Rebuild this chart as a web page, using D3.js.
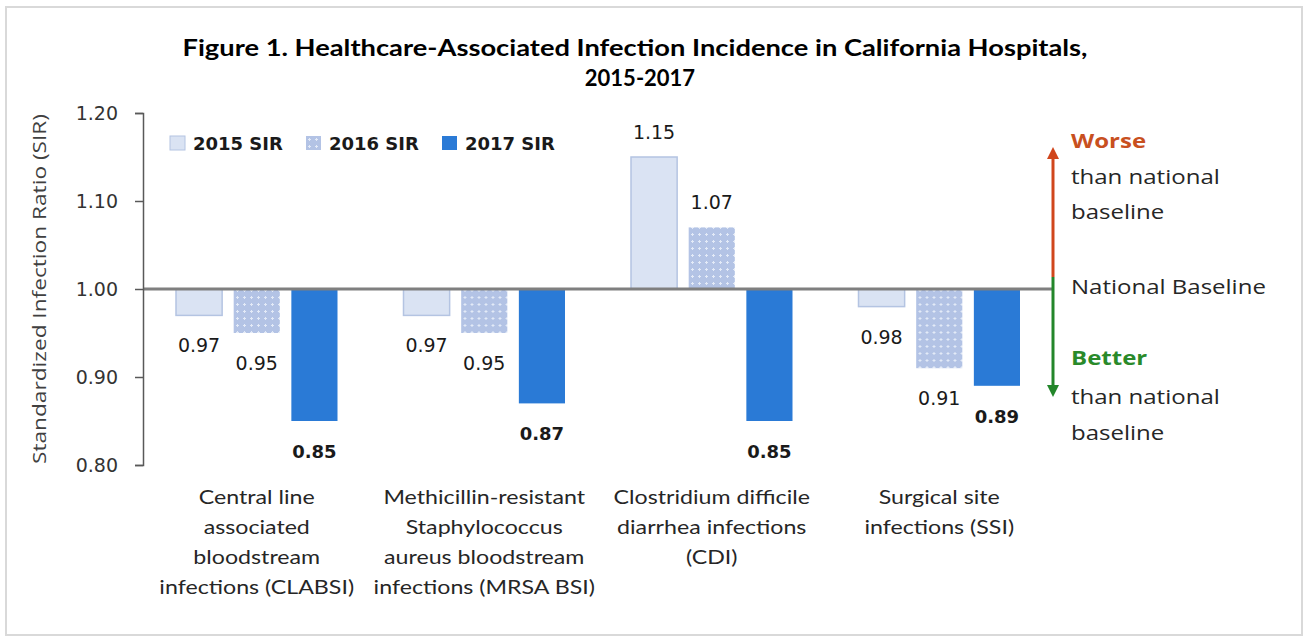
<!DOCTYPE html>
<html>
<head>
<meta charset="utf-8">
<script src="https://cdn.jsdelivr.net/npm/d3@7"></script>
<style>
  body { margin: 0; background: #fff; }
  #container { width: 1308px; height: 642px; }
</style>
</head>
<body>
<div id="container"></div>
<script>
// chart values
const categories = ['CLABSI', 'MRSA BSI', 'CDI', 'SSI']
const categoryLines = [
  ['Central line', 'associated', 'bloodstream', 'infections (CLABSI)'],
  ['Methicillin-resistant', 'Staphylococcus', 'aureus bloodstream', 'infections (MRSA BSI)'],
  ['Clostridium difficile', 'diarrhea infections', '(CDI)'],
  ['Surgical site', 'infections (SSI)']
]
const series = ['2015 SIR', '2016 SIR', '2017 SIR']
const sir2015 = [0.97, 0.97, 1.15, 0.98]
const sir2016 = [0.95, 0.95, 1.07, 0.91]
const sir2017 = [0.85, 0.87, 0.85, 0.89]
const yTicks = [0.80, 0.90, 1.00, 1.10, 1.20]
const baseline = 1.00

const w = 1308
const h = 642
const margin = { top: 113, left: 143, right: 255, bottom: 177 }

//stretch text horizontally so it takes up the same room as the original font
const widen = (sel, k) => sel.each(function () {
  const len = this.getComputedTextLength()
  d3.select(this)
    .attr('textLength', len * k)
    .attr('lengthAdjust', 'spacingAndGlyphs')
})

const svg = d3.select('#container')
  .append('svg')
  .attr('width', w)
  .attr('height', h)

//dotted pattern for 2016
const defs = svg.append('defs')
const pat = defs.append('pattern')
  .attr('id', 'dots')
  .attr('patternUnits', 'userSpaceOnUse')
  .attr('width', 7)
  .attr('height', 7)
pat.append('rect').attr('width', 7).attr('height', 7).attr('fill', '#b3c3e5')
pat.append('rect').attr('x', 3).attr('y', 2).attr('width', 1).attr('height', 3).attr('fill', '#e3eaf7')
pat.append('rect').attr('x', 2).attr('y', 3).attr('width', 3).attr('height', 1).attr('fill', '#e3eaf7')

const fills = ['#dae3f3', 'url(#dots)', '#2a7ad6']
const strokes = ['#b4c4e2', 'none', 'none']

//outer frame
svg.append('rect')
  .attr('x', 6)
  .attr('y', 7)
  .attr('width', 1296)
  .attr('height', 628)
  .attr('fill', 'none')
  .attr('stroke', '#d9d9d9')
  .attr('stroke-width', 2)

//title
svg.append('text')
  .attr('x', 635)
  .attr('y', 56)
  .attr('text-anchor', 'middle')
  .style('font-family', 'Lato, sans-serif')
  .style('font-weight', 'bold')
  .style('font-size', '22px')
  .text('Figure 1. Healthcare-Associated Infection Incidence in California Hospitals,')
  .attr('textLength', 905)
  .attr('lengthAdjust', 'spacingAndGlyphs')

svg.append('text')
  .attr('x', 640)
  .attr('y', 86)
  .attr('text-anchor', 'middle')
  .style('font-family', 'Lato, sans-serif')
  .style('font-weight', 'bold')
  .style('font-size', '22px')
  .text('2015-2017')

//scales
const x0 = d3.scaleBand()
  .domain(categories)
  .range([margin.left, w - margin.right])

const x1 = d3.scaleBand()
  .domain(series)
  .range([33, x0.bandwidth() - 33])
  .paddingInner(0.2)

const y = d3.scaleLinear()
  .domain([0.8, 1.2])
  .range([h - margin.bottom, margin.top])

const rows = categories.map((c, i) => ({
  cat: c,
  values: [sir2015[i], sir2016[i], sir2017[i]]
}))

//bars
const groups = svg.append('g')
  .selectAll('g')
  .data(rows)
  .join('g')
  .attr('transform', d => `translate(${x0(d.cat)},0)`)

groups.selectAll('rect')
  .data(d => d.values.map((v, j) => ({ v: v, s: series[j], j: j })))
  .join('rect')
  .attr('x', d => x1(d.s))
  .attr('width', x1.bandwidth())
  .attr('y', d => Math.min(y(d.v), y(baseline)))
  .attr('height', d => Math.abs(y(d.v) - y(baseline)))
  .attr('fill', d => fills[d.j])
  .attr('stroke', d => strokes[d.j])
  .attr('stroke-width', 1.5)

//value labels
groups.selectAll('text')
  .data(d => d.values.map((v, j) => ({ v: v, s: series[j], j: j })))
  .join('text')
  .attr('x', d => x1(d.s) + x1.bandwidth() / 2)
  .attr('y', d => d.v < baseline ? y(d.v) + 37 : y(d.v) - 18)
  .attr('text-anchor', 'middle')
  .style('font-family', 'DejaVu Sans, sans-serif')
  .style('font-size', d => d.j === 2 ? '18px' : '19px')
  .style('font-weight', d => d.j === 2 ? 'bold' : 'normal')
  .attr('fill', '#1a1a1a')
  .text(d => d3.format('.2f')(d.v))

//national baseline line
svg.append('line')
  .attr('x1', margin.left)
  .attr('x2', w - margin.right)
  .attr('y1', y(baseline))
  .attr('y2', y(baseline))
  .attr('stroke', '#7f7f7f')
  .attr('stroke-width', 3)

//y axis
const yAxis = svg.append('g')
  .attr('transform', `translate(${margin.left},0)`)
  .call(d3.axisLeft(y)
    .tickValues(yTicks)
    .tickFormat(d3.format('.2f'))
    .tickSize(8)
    .tickPadding(17))
yAxis.select('.domain').attr('stroke', '#595959').attr('stroke-width', 1.5)
yAxis.selectAll('.tick line').attr('stroke', '#595959').attr('stroke-width', 1.5)
yAxis.selectAll('.tick text')
  .style('font-family', 'DejaVu Sans, sans-serif')
  .style('font-size', '19px')
  .attr('fill', '#333')

//y axis title
svg.append('text')
  .attr('transform', `translate(46,${(margin.top + h - margin.bottom) / 2}) rotate(-90)`)
  .attr('text-anchor', 'middle')
  .style('font-family', 'Open Sans, sans-serif')
  .style('font-size', '18px')
  .attr('fill', '#404040')
  .text('Standardized Infection Ratio (SIR)')
  .attr('textLength', 350)
  .attr('lengthAdjust', 'spacingAndGlyphs')

//category labels, one text per line
const catLines = categories.flatMap((c, i) =>
  categoryLines[i].map((t, k) => ({ cat: c, t: t, k: k })))

svg.append('g')
  .selectAll('text')
  .data(catLines)
  .join('text')
  .attr('x', d => x0(d.cat) + x0.bandwidth() / 2)
  .attr('y', d => 504 + d.k * 30)
  .attr('text-anchor', 'middle')
  .style('font-family', 'Lato, sans-serif')
  .style('font-size', '19px')
  .attr('fill', '#262626')
  .text(d => d.t)
  .call(widen, 1.22)

//legend
const legend = svg.append('g')
  .selectAll('g')
  .data(series)
  .join('g')
  .attr('transform', (d, i) => `translate(${170 + i * 136},136)`)

legend.append('rect')
  .attr('width', 15)
  .attr('height', 14)
  .attr('fill', (d, i) => fills[i])
  .attr('stroke', (d, i) => strokes[i])

legend.append('text')
  .attr('x', 23)
  .attr('y', 14)
  .style('font-family', 'DejaVu Sans, sans-serif')
  .style('font-weight', 'bold')
  .style('font-size', '18px')
  .attr('fill', '#1a1a1a')
  .text(d => d)

//better / worse arrows
const ax = w - margin.right
const mid = 277
defs.append('marker')
  .attr('id', 'headRed')
  .attr('viewBox', '0 0 10 10')
  .attr('refX', 5).attr('refY', 5)
  .attr('markerWidth', 4).attr('markerHeight', 4)
  .attr('orient', 'auto')
  .append('path').attr('d', 'M0,0L10,5L0,10z').attr('fill', '#d0461c')
defs.append('marker')
  .attr('id', 'headGreen')
  .attr('viewBox', '0 0 10 10')
  .attr('refX', 5).attr('refY', 5)
  .attr('markerWidth', 4).attr('markerHeight', 4)
  .attr('orient', 'auto')
  .append('path').attr('d', 'M0,0L10,5L0,10z').attr('fill', '#23862a')

svg.append('line')
  .attr('x1', ax).attr('x2', ax)
  .attr('y1', mid).attr('y2', 153)
  .attr('stroke', '#d0461c').attr('stroke-width', 3)
  .attr('marker-end', 'url(#headRed)')
svg.append('line')
  .attr('x1', ax).attr('x2', ax)
  .attr('y1', mid).attr('y2', 391)
  .attr('stroke', '#23862a').attr('stroke-width', 3)
  .attr('marker-end', 'url(#headGreen)')

const notes = [
  { t: 'Worse', y: 148, c: '#c8501f', b: true },
  { t: 'than national', y: 184, c: '#262626', b: false },
  { t: 'baseline', y: 219, c: '#262626', b: false },
  { t: 'National Baseline', y: 294, c: '#262626', b: false },
  { t: 'Better', y: 365, c: '#2a8a2a', b: true },
  { t: 'than national', y: 404, c: '#262626', b: false },
  { t: 'baseline', y: 440, c: '#262626', b: false }
]
svg.append('g')
  .selectAll('text')
  .data(notes)
  .join('text')
  .attr('x', 1071)
  .attr('y', d => d.y)
  .style('font-family', 'Open Sans, sans-serif')
  .style('font-size', '20px')
  .style('font-weight', d => d.b ? 'bold' : 'normal')
  .attr('fill', d => d.c)
  .text(d => d.t)
  .call(widen, 1.2)
</script>
</body>
</html>
